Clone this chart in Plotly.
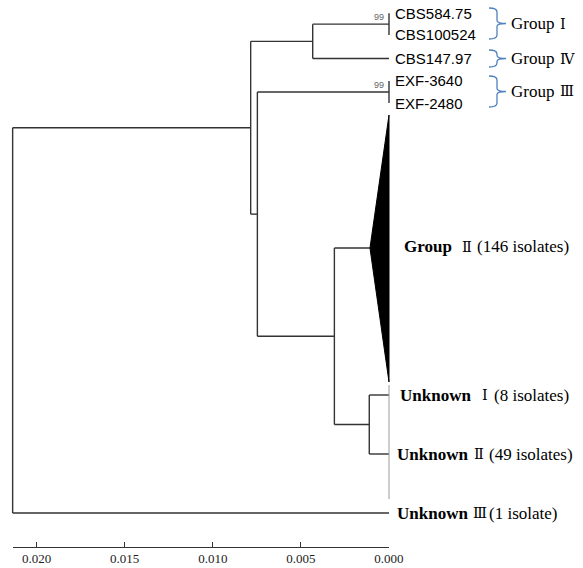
import plotly.graph_objects as go

# ---------------- data ----------------
# node heights (distance from tips, substitutions/site)
NODE_HEIGHT = {
    "root": 0.02136, "A": 0.00785, "B": 0.00433, "C": 0.00747,
    "D": 0.00310, "E": 0.00112, "G1": 0.0, "G3": 0.0, "GII": 0.00108,
}
CHILDREN = {
    "root": ["A", "UIII"],
    "A": ["B", "C"],
    "B": ["G1", "CBS147.97"],
    "G1": ["CBS584.75", "CBS100524"],
    "C": ["G3", "D"],
    "G3": ["EXF-3640", "EXF-2480"],
    "D": ["GII", "E"],
    "E": ["UI", "UII"],
}
# tip rows (vertical layout order of leaves)
TIP_ROW = {
    "CBS584.75": 13.3, "CBS100524": 35, "CBS147.97": 58.5,
    "EXF-3640": 81, "EXF-2480": 103, "GII": 248,
    "UI": 395, "UII": 454, "UIII": 513,
}
TIP_LABELS = ["CBS584.75", "CBS100524", "CBS147.97", "EXF-3640", "EXF-2480"]
COLLAPSED_SPAN = (115, 382)        # Group II triangle rows
GRAY_SPAN = (385, 499)
BOOTSTRAP = {"G1": "99", "G3": "99"}
TICK_VALS = [0.020, 0.015, 0.010, 0.005, 0.000]
TICK_TEXT = ["0.020", "0.015", "0.010", "0.005", "0.000"]

GROUPS = [  # label, numeral, top row, bottom row
    ("Group", "Ⅰ", 8, 39),
    ("Group", "Ⅳ", 50, 67),
    ("Group", "Ⅲ", 76, 107),
]

# ---------------- geometry helpers ----------------
W, H = 583, 568
PX_PER_UNIT = 17620.0
X_TIP_PX = 389.0             # pixel column of the tips (height 0)


def val_at(p):
    return (X_TIP_PX - p) / PX_PER_UNIT


def h(n):
    return NODE_HEIGHT.get(n, 0.0)


def ypos(n):
    if n in TIP_ROW:
        return TIP_ROW[n]
    ch = CHILDREN[n]
    return (ypos(ch[0]) + ypos(ch[-1])) / 2


xs, ys = [], []
for n, ch in CHILDREN.items():
    xs += [h(n), h(n), None]
    ys += [ypos(ch[0]), ypos(ch[-1]), None]
    for c in ch:
        if h(c) != h(n):
            xs += [h(n), h(c), None]
            ys += [ypos(c), ypos(c), None]

LINE_COL = "#333333"
fig = go.Figure()
fig.add_trace(go.Scatter(x=xs, y=ys, mode="lines",
                         line=dict(color=LINE_COL, width=1.4),
                         hoverinfo="skip", showlegend=False))
# collapsed Group II triangle
fig.add_trace(go.Scatter(
    x=[h("GII"), 0.0, 0.0, h("GII")],
    y=[TIP_ROW["GII"], COLLAPSED_SPAN[0], COLLAPSED_SPAN[1], TIP_ROW["GII"]],
    mode="lines", fill="toself", fillcolor="black",
    line=dict(color="black", width=1), hoverinfo="skip", showlegend=False))
# thin gray line
fig.add_trace(go.Scatter(x=[0.0, 0.0], y=list(GRAY_SPAN), mode="lines",
                         line=dict(color="#9a9a9a", width=1),
                         hoverinfo="skip", showlegend=False))
# scale axis carrier (invisible)
fig.add_trace(go.Scatter(x=TICK_VALS, y=[540] * len(TICK_VALS), xaxis="x2",
                         mode="markers", marker=dict(opacity=0),
                         hoverinfo="skip", showlegend=False))


def xp(p):
    return p / W


def yp(p):
    return 1 - p / H


ann = []
SANS = "Liberation Sans, Arial, sans-serif"
SERIF = "Liberation Serif, DejaVu Serif, Times New Roman, serif"
NUM_FONT = dict(family=SERIF, size=14.5, color="black")
for t in TIP_LABELS:
    ann.append(dict(x=xp(393), y=yp(TIP_ROW[t]), text=t, xanchor="left",
                    yanchor="middle", font=dict(family=SANS, size=15, color="black")))
for node, lab in BOOTSTRAP.items():
    ann.append(dict(x=xp(386), y=yp(ypos(node) - 7), text=lab, xanchor="right",
                    yanchor="middle", font=dict(family=SANS, size=9, color="#666")))

shapes = []
BLUE = "#4f81bd"
for word, num, y0, y1 in GROUPS:
    ym = (y0 + y1) / 2
    xl, xm, xt = 489, 497, 506
    pts = (f"M {xp(xl)},{yp(y0)} Q {xp(xm)},{yp(y0)} {xp(xm)},{yp(y0+4)} "
           f"L {xp(xm)},{yp(ym-3)} Q {xp(xm)},{yp(ym)} {xp(xt)},{yp(ym)} "
           f"Q {xp(xm)},{yp(ym)} {xp(xm)},{yp(ym+3)} "
           f"L {xp(xm)},{yp(y1-4)} Q {xp(xm)},{yp(y1)} {xp(xl)},{yp(y1)}")
    shapes.append(dict(type="path", path=pts, xref="paper", yref="paper",
                       line=dict(color=BLUE, width=1.3)))
    ann.append(dict(x=xp(509), y=yp(ym), text=word, xanchor="left",
                    yanchor="middle", font=dict(family=SERIF, size=17, color="black")))
    ann.append(dict(x=xp(558), y=yp(ym), text=num, xanchor="left",
                    yanchor="middle", font=NUM_FONT))

BIG = [  # bold word, numeral, rest, row, x of word, x of numeral, x of rest
    ("Group", "Ⅱ", "(146 isolates)", 246.7, 402, 460, 475),
    ("Unknown", "Ⅰ", "(8 isolates)", 395, 398, 480, 492),
    ("Unknown", "Ⅱ", "(49 isolates)", 454, 395, 472, 487),
    ("Unknown", "Ⅲ", "(1 isolate)", 513, 395, 471, 487),
]
for word, num, rest, row, xw, xn, xr in BIG:
    f = dict(family=SERIF, size=17, color="black")
    ann.append(dict(x=xp(xw), y=yp(row), text=f"<b>{word}</b>", xanchor="left",
                    yanchor="middle", font=f))
    ann.append(dict(x=xp(xn), y=yp(row), text=num, xanchor="left",
                    yanchor="middle", font=NUM_FONT))
    ann.append(dict(x=xp(xr), y=yp(row), text=rest, xanchor="left",
                    yanchor="middle", font=f))

for a in ann:
    a.update(xref="paper", yref="paper", showarrow=False)

root_h = NODE_HEIGHT["root"]
fig.update_layout(
    template="none",
    width=W, height=H, autosize=False,
    margin=dict(l=0, r=0, t=0, b=0, pad=0, autoexpand=False),
    paper_bgcolor="white", plot_bgcolor="rgba(0,0,0,0)",
    xaxis=dict(range=[val_at(0), val_at(W)], domain=[0, 1], visible=False,
               automargin=False),
    yaxis=dict(range=[H, 0], domain=[0, 1], visible=False, automargin=False),
    xaxis2=dict(domain=[xp(X_TIP_PX - root_h * PX_PER_UNIT), xp(X_TIP_PX)],
                range=[root_h, 0.0], automargin=False,
                anchor="free", position=yp(546.7),
                showline=True, linecolor=LINE_COL, linewidth=1.3,
                ticks="inside", ticklen=5, tickwidth=1.3, tickcolor=LINE_COL,
                tickvals=TICK_VALS, ticktext=TICK_TEXT, showgrid=False,
                zeroline=False,
                tickfont=dict(family=SERIF, size=13, color="#222")),
    annotations=ann, shapes=shapes, showlegend=False,
)
fig.write_html(
    "out.html",
    config={"displayModeBar": False, "responsive": False},
    post_script=("document.documentElement.style.overflow='hidden';"
                 "document.body.style.margin='0';"
                 "document.body.style.overflow='hidden';"),
)
